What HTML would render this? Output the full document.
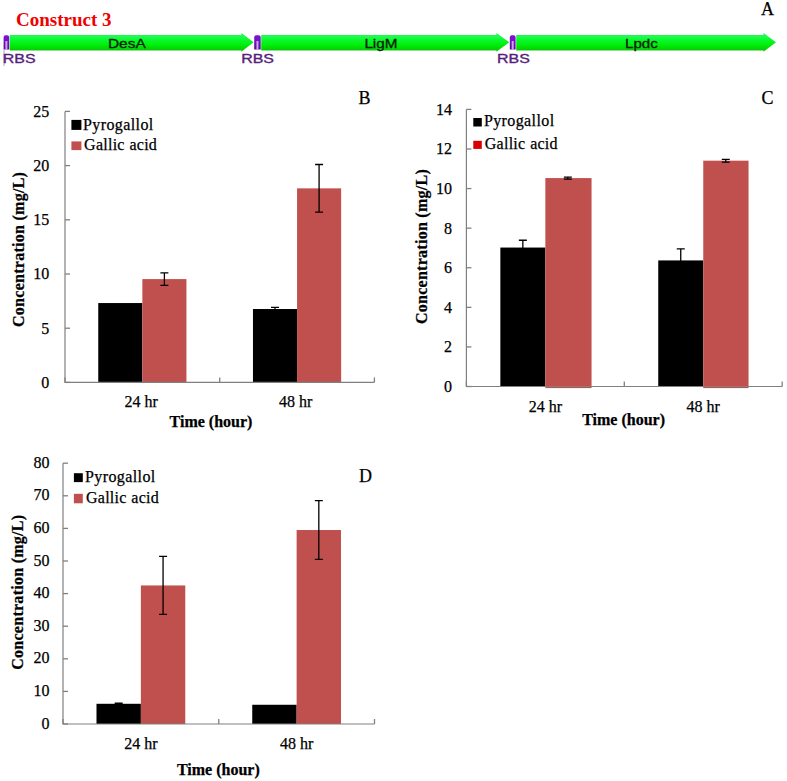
<!DOCTYPE html><html><head><meta charset="utf-8"><style>html,body{margin:0;padding:0;background:#fff;}svg{display:block;} text[fill="#000"]{stroke:#000;stroke-width:0.25px;}</style></head><body>
<svg width="787" height="781" viewBox="0 0 787 781">
<defs><linearGradient id="g" x1="0" y1="0" x2="0" y2="1"><stop offset="0" stop-color="#18f040"/><stop offset="0.18" stop-color="#20fc50"/><stop offset="0.4" stop-color="#08f828"/><stop offset="0.6" stop-color="#00f010"/><stop offset="0.82" stop-color="#00dc00"/><stop offset="0.9" stop-color="#10c410"/><stop offset="1" stop-color="#20d020"/></linearGradient><linearGradient id="rb" x1="0" y1="0" x2="0" y2="1"><stop offset="0" stop-color="#8010d8"/><stop offset="0.5" stop-color="#7010c0"/><stop offset="1" stop-color="#50108a"/></linearGradient></defs>
<text x="16" y="25.6" font-family='"Liberation Serif", serif' font-weight="bold" font-size="19" fill="#f00000">Construct 3</text>
<text x="761" y="15.2" font-family='"Liberation Serif", serif' font-size="18" fill="#000">A</text>
<path d="M9.7,35 L241.4,35 L241.4,33 L253.6,42.3 L241.4,51.7 L241.4,50.5 L9.7,50.5 Z" fill="url(#g)"/>
<path d="M261.2,35 L496.4,35 L496.4,33 L509.3,42.3 L496.4,51.7 L496.4,50.5 L261.2,50.5 Z" fill="url(#g)"/>
<path d="M516.2,35 L763.5,35 L763.5,33 L776,42.3 L763.5,51.7 L763.5,50.5 L516.2,50.5 Z" fill="url(#g)"/>
<path d="M4,50 V66" stroke="#b0a0c0" stroke-width="1"/>
<path d="M3.6,49.5 V37.5 Q3.6,35.3 5.6,35.3 H7.199999999999999 Q9.2,35.3 9.2,37.5 V49.5 Z" fill="url(#rb)"/><rect x="5.4" y="41" width="2" height="9" fill="#d0a0f0"/>
<path d="M254.2,49.5 V37.5 Q254.2,35.3 256.2,35.3 H258.7 Q260.7,35.3 260.7,37.5 V49.5 Z" fill="url(#rb)"/><rect x="256.45" y="41" width="2" height="9" fill="#d0a0f0"/>
<path d="M509.8,49.5 V37.5 Q509.8,35.3 511.8,35.3 H513.6 Q515.6,35.3 515.6,37.5 V49.5 Z" fill="url(#rb)"/><rect x="511.70000000000005" y="41" width="2" height="9" fill="#d0a0f0"/>
<text x="19.2" y="62.6" font-family='"Liberation Sans", sans-serif' font-size="12.7" fill="#55207a" stroke="#55207a" stroke-width="0.35" text-anchor="middle" textLength="32.8" lengthAdjust="spacingAndGlyphs">RBS</text>
<text x="257.6" y="62.6" font-family='"Liberation Sans", sans-serif' font-size="12.7" fill="#55207a" stroke="#55207a" stroke-width="0.35" text-anchor="middle" textLength="32.8" lengthAdjust="spacingAndGlyphs">RBS</text>
<text x="513.4" y="62.6" font-family='"Liberation Sans", sans-serif' font-size="12.7" fill="#55207a" stroke="#55207a" stroke-width="0.35" text-anchor="middle" textLength="32.8" lengthAdjust="spacingAndGlyphs">RBS</text>
<text x="126.8" y="47.9" font-family='"Liberation Sans", sans-serif' font-size="13.3" fill="#0a1a0a" stroke="#0a1a0a" stroke-width="0.3" text-anchor="middle" textLength="37.8" lengthAdjust="spacingAndGlyphs">DesA</text>
<text x="380.9" y="47.9" font-family='"Liberation Sans", sans-serif' font-size="13.3" fill="#0a1a0a" stroke="#0a1a0a" stroke-width="0.3" text-anchor="middle" textLength="33" lengthAdjust="spacingAndGlyphs">LigM</text>
<text x="641.4" y="47.9" font-family='"Liberation Sans", sans-serif' font-size="13.3" fill="#0a1a0a" stroke="#0a1a0a" stroke-width="0.3" text-anchor="middle" textLength="32.8" lengthAdjust="spacingAndGlyphs">Lpdc</text>
<rect x="98.26" y="303.05" width="44.09" height="79.35" fill="#000"/><rect x="142.35" y="279.09" width="44.09" height="103.31" fill="#c0504d"/><rect x="252.96" y="309.01" width="44.09" height="73.39" fill="#000"/><rect x="297.05" y="188.36" width="44.09" height="194.04" fill="#c0504d"/><path d="M164.39,272.81 V285.38 M160.39,272.81 H168.39 M160.39,285.38 H168.39" stroke="#000" stroke-width="1.3" fill="none"/><path d="M275.01,307.28 V310.75 M271.01,307.28 H279.01 M271.01,310.75 H279.01" stroke="#000" stroke-width="1.3" fill="none"/><path d="M319.09,164.52 V212.21 M315.09,164.52 H323.09 M315.09,212.21 H323.09" stroke="#000" stroke-width="1.3" fill="none"/><path d="M65,111.4 V382.4 H374.4" stroke="#808080" stroke-width="1.2" fill="none"/><path d="M65,382.40 H70" stroke="#808080" stroke-width="1.3"/><text x="49.2" y="387.80" font-family='"Liberation Serif", serif' font-size="16" text-anchor="end" fill="#000">0</text><path d="M65,328.20 H70" stroke="#808080" stroke-width="1.3"/><text x="49.2" y="333.60" font-family='"Liberation Serif", serif' font-size="16" text-anchor="end" fill="#000">5</text><path d="M65,274.00 H70" stroke="#808080" stroke-width="1.3"/><text x="49.2" y="279.40" font-family='"Liberation Serif", serif' font-size="16" text-anchor="end" fill="#000">10</text><path d="M65,219.80 H70" stroke="#808080" stroke-width="1.3"/><text x="49.2" y="225.20" font-family='"Liberation Serif", serif' font-size="16" text-anchor="end" fill="#000">15</text><path d="M65,165.60 H70" stroke="#808080" stroke-width="1.3"/><text x="49.2" y="171.00" font-family='"Liberation Serif", serif' font-size="16" text-anchor="end" fill="#000">20</text><path d="M65,111.40 H70" stroke="#808080" stroke-width="1.3"/><text x="49.2" y="116.80" font-family='"Liberation Serif", serif' font-size="16" text-anchor="end" fill="#000">25</text><path d="M65.00,382.4 V377.4" stroke="#808080" stroke-width="1.3"/><path d="M219.70,382.4 V377.4" stroke="#808080" stroke-width="1.3"/><path d="M374.40,382.4 V377.4" stroke="#808080" stroke-width="1.3"/><text x="141.05" y="407.4" font-family='"Liberation Serif", serif' font-size="16" text-anchor="middle" fill="#000">24 hr</text><text x="295.75" y="407.4" font-family='"Liberation Serif", serif' font-size="16" text-anchor="middle" fill="#000">48 hr</text><text x="211" y="426.7" font-family='"Liberation Serif", serif' font-size="16" font-weight="bold" text-anchor="middle" fill="#000">Time (hour)</text><text transform="translate(24.3,249.4) rotate(-90)" x="0" y="0" font-family='"Liberation Serif", serif' font-size="16" font-weight="bold" letter-spacing="0.27" text-anchor="middle" fill="#000">Concentration (mg/L)</text><rect x="71.4" y="119.9" width="10" height="10" fill="#000"/><rect x="71.4" y="141.4" width="10" height="8.7" fill="#c0504d"/><text x="83" y="130.1" font-family='"Liberation Serif", serif' font-size="16" letter-spacing="0.4" fill="#000">Pyrogallol</text><text x="84.1" y="149.6" font-family='"Liberation Serif", serif' font-size="16" letter-spacing="0.25" word-spacing="0.5" fill="#000">Gallic acid</text><text x="358.5" y="103.6" font-family='"Liberation Serif", serif' font-size="18" fill="#000">B</text>
<rect x="500.35" y="247.55" width="45.00" height="138.95" fill="#000"/><rect x="545.35" y="178.08" width="46.20" height="210.02" fill="#c0504d"/><rect x="658.25" y="260.42" width="45.00" height="126.08" fill="#000"/><rect x="703.25" y="160.66" width="45.30" height="227.44" fill="#c0504d"/><path d="M522.85,240.23 V254.88 M518.85,240.23 H526.85 M518.85,254.88 H526.85" stroke="#000" stroke-width="1.3" fill="none"/><path d="M567.85,177.09 V179.07 M563.85,177.09 H571.85 M563.85,179.07 H571.85" stroke="#000" stroke-width="1.3" fill="none"/><path d="M680.75,248.94 V271.90 M676.75,248.94 H684.75 M676.75,271.90 H684.75" stroke="#000" stroke-width="1.3" fill="none"/><path d="M725.75,159.28 V162.05 M721.75,159.28 H729.75 M721.75,162.05 H729.75" stroke="#000" stroke-width="1.3" fill="none"/><path d="M466.4,109.4 V386.5 H782.2" stroke="#808080" stroke-width="1.2" fill="none"/><path d="M466.4,386.50 H471.4" stroke="#808080" stroke-width="1.3"/><text x="452" y="391.90" font-family='"Liberation Serif", serif' font-size="16" text-anchor="end" fill="#000">0</text><path d="M466.4,346.91 H471.4" stroke="#808080" stroke-width="1.3"/><text x="452" y="352.31" font-family='"Liberation Serif", serif' font-size="16" text-anchor="end" fill="#000">2</text><path d="M466.4,307.33 H471.4" stroke="#808080" stroke-width="1.3"/><text x="452" y="312.73" font-family='"Liberation Serif", serif' font-size="16" text-anchor="end" fill="#000">4</text><path d="M466.4,267.74 H471.4" stroke="#808080" stroke-width="1.3"/><text x="452" y="273.14" font-family='"Liberation Serif", serif' font-size="16" text-anchor="end" fill="#000">6</text><path d="M466.4,228.16 H471.4" stroke="#808080" stroke-width="1.3"/><text x="452" y="233.56" font-family='"Liberation Serif", serif' font-size="16" text-anchor="end" fill="#000">8</text><path d="M466.4,188.57 H471.4" stroke="#808080" stroke-width="1.3"/><text x="452" y="193.97" font-family='"Liberation Serif", serif' font-size="16" text-anchor="end" fill="#000">10</text><path d="M466.4,148.99 H471.4" stroke="#808080" stroke-width="1.3"/><text x="452" y="154.39" font-family='"Liberation Serif", serif' font-size="16" text-anchor="end" fill="#000">12</text><path d="M466.4,109.40 H471.4" stroke="#808080" stroke-width="1.3"/><text x="452" y="114.80" font-family='"Liberation Serif", serif' font-size="16" text-anchor="end" fill="#000">14</text><path d="M466.40,386.5 V381.5" stroke="#808080" stroke-width="1.3"/><path d="M624.30,386.5 V381.5" stroke="#808080" stroke-width="1.3"/><path d="M782.20,386.5 V381.5" stroke="#808080" stroke-width="1.3"/><text x="545.35" y="412.4" font-family='"Liberation Serif", serif' font-size="16" text-anchor="middle" fill="#000">24 hr</text><text x="703.25" y="412.4" font-family='"Liberation Serif", serif' font-size="16" text-anchor="middle" fill="#000">48 hr</text><text x="623.6" y="424.9" font-family='"Liberation Serif", serif' font-size="16" font-weight="bold" text-anchor="middle" fill="#000">Time (hour)</text><text transform="translate(426.5,246.5) rotate(-90)" x="0" y="0" font-family='"Liberation Serif", serif' font-size="16" font-weight="bold" letter-spacing="0.27" text-anchor="middle" fill="#000">Concentration (mg/L)</text><rect x="473.3" y="118.0" width="8.5" height="8.5" fill="#000"/><rect x="473.3" y="140.8" width="8.5" height="8.1" fill="#d80000"/><text x="483.9" y="125.9" font-family='"Liberation Serif", serif' font-size="16" letter-spacing="0.4" fill="#000">Pyrogallol</text><text x="484.8" y="148.8" font-family='"Liberation Serif", serif' font-size="16" letter-spacing="0.25" word-spacing="0.5" fill="#000">Gallic acid</text><text x="761.5" y="103.9" font-family='"Liberation Serif", serif' font-size="18" fill="#000">C</text>
<rect x="96.49" y="703.79" width="44.39" height="20.21" fill="#000"/><rect x="140.88" y="585.45" width="44.39" height="138.55" fill="#c0504d"/><rect x="252.24" y="704.77" width="44.39" height="19.23" fill="#000"/><rect x="296.62" y="530.03" width="44.39" height="193.97" fill="#c0504d"/><path d="M118.68,703.14 V704.44 M114.68,703.14 H122.68 M114.68,704.44 H122.68" stroke="#000" stroke-width="1.3" fill="none"/><path d="M163.07,556.44 V614.46 M159.07,556.44 H167.07 M159.07,614.46 H167.07" stroke="#000" stroke-width="1.3" fill="none"/><path d="M318.82,500.69 V559.37 M314.82,500.69 H322.82 M314.82,559.37 H322.82" stroke="#000" stroke-width="1.3" fill="none"/><path d="M63,463.2 V724 H374.5" stroke="#808080" stroke-width="1.2" fill="none"/><path d="M63,724.00 H68" stroke="#808080" stroke-width="1.3"/><text x="49.5" y="728.60" font-family='"Liberation Serif", serif' font-size="16" text-anchor="end" fill="#000">0</text><path d="M63,691.40 H68" stroke="#808080" stroke-width="1.3"/><text x="49.5" y="696.00" font-family='"Liberation Serif", serif' font-size="16" text-anchor="end" fill="#000">10</text><path d="M63,658.80 H68" stroke="#808080" stroke-width="1.3"/><text x="49.5" y="663.40" font-family='"Liberation Serif", serif' font-size="16" text-anchor="end" fill="#000">20</text><path d="M63,626.20 H68" stroke="#808080" stroke-width="1.3"/><text x="49.5" y="630.80" font-family='"Liberation Serif", serif' font-size="16" text-anchor="end" fill="#000">30</text><path d="M63,593.60 H68" stroke="#808080" stroke-width="1.3"/><text x="49.5" y="598.20" font-family='"Liberation Serif", serif' font-size="16" text-anchor="end" fill="#000">40</text><path d="M63,561.00 H68" stroke="#808080" stroke-width="1.3"/><text x="49.5" y="565.60" font-family='"Liberation Serif", serif' font-size="16" text-anchor="end" fill="#000">50</text><path d="M63,528.40 H68" stroke="#808080" stroke-width="1.3"/><text x="49.5" y="533.00" font-family='"Liberation Serif", serif' font-size="16" text-anchor="end" fill="#000">60</text><path d="M63,495.80 H68" stroke="#808080" stroke-width="1.3"/><text x="49.5" y="500.40" font-family='"Liberation Serif", serif' font-size="16" text-anchor="end" fill="#000">70</text><path d="M63,463.20 H68" stroke="#808080" stroke-width="1.3"/><text x="49.5" y="467.80" font-family='"Liberation Serif", serif' font-size="16" text-anchor="end" fill="#000">80</text><path d="M63.00,724 V719" stroke="#808080" stroke-width="1.3"/><path d="M218.75,724 V719" stroke="#808080" stroke-width="1.3"/><path d="M374.50,724 V719" stroke="#808080" stroke-width="1.3"/><text x="140.88" y="749" font-family='"Liberation Serif", serif' font-size="16" text-anchor="middle" fill="#000">24 hr</text><text x="296.62" y="749" font-family='"Liberation Serif", serif' font-size="16" text-anchor="middle" fill="#000">48 hr</text><text x="218.3" y="774.7" font-family='"Liberation Serif", serif' font-size="16" font-weight="bold" text-anchor="middle" fill="#000">Time (hour)</text><text transform="translate(23.2,592.2) rotate(-90)" x="0" y="0" font-family='"Liberation Serif", serif' font-size="16" font-weight="bold" letter-spacing="0.27" text-anchor="middle" fill="#000">Concentration (mg/L)</text><rect x="73.9" y="473.2" width="8.9" height="8.9" fill="#000"/><rect x="73.9" y="493.8" width="8.9" height="9.5" fill="#c0504d"/><text x="85" y="482.3" font-family='"Liberation Serif", serif' font-size="16" letter-spacing="0.4" fill="#000">Pyrogallol</text><text x="86" y="502.9" font-family='"Liberation Serif", serif' font-size="16" letter-spacing="0.25" word-spacing="0.5" fill="#000">Gallic acid</text><text x="359" y="481.8" font-family='"Liberation Serif", serif' font-size="18" fill="#000">D</text>
</svg></body></html>
